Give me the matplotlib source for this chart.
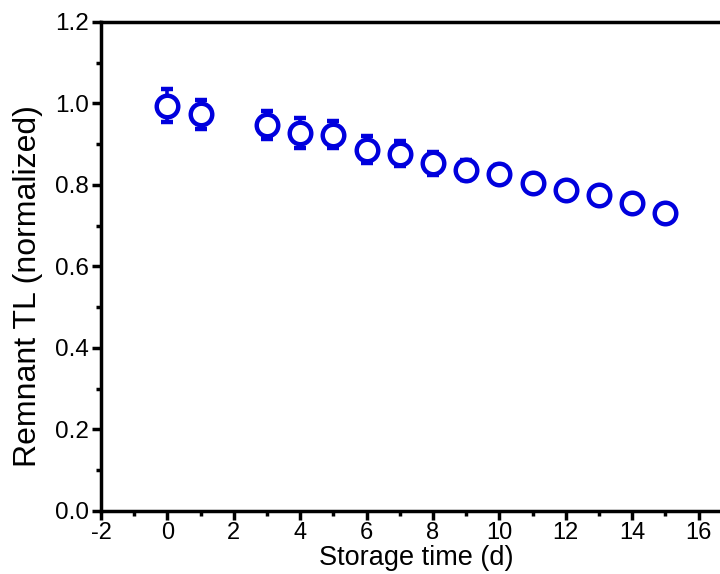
import matplotlib
matplotlib.use("Agg")
import matplotlib.pyplot as plt
from matplotlib.ticker import MultipleLocator

plt.rcParams['font.family'] = ['Liberation Sans', 'DejaVu Sans']

# Remnant thermoluminescence after storage, normalized to day 0
storage_days = [0, 1, 3, 4, 5, 6, 7, 8, 9, 10, 11, 12, 13, 14, 15]
remnant_tl = [0.995, 0.973, 0.947, 0.927, 0.923, 0.887, 0.877, 0.853, 0.837,
              0.827, 0.804, 0.788, 0.775, 0.755, 0.731]
tl_error = [0.040, 0.035, 0.035, 0.037, 0.033, 0.034, 0.030, 0.028, 0.025,
            0.022, 0.020, 0.020, 0.020, 0.020, 0.020]

x_ticks = [-2, 0, 2, 4, 6, 8, 10, 12, 14, 16]
y_ticks = [0.0, 0.2, 0.4, 0.6, 0.8, 1.0, 1.2]

fig = plt.figure(figsize=(7.2, 5.74), dpi=100)
ax = fig.add_axes([0.1403, 0.1098, 0.876, 0.8519])

blue = '#0000dd'
ax.errorbar(storage_days, remnant_tl, yerr=tl_error, fmt='o',
            color=blue, ecolor=blue, elinewidth=2.6, capsize=4.5, capthick=2.6,
            markersize=15.5, markeredgewidth=3.2, markerfacecolor='white',
            markeredgecolor=blue, zorder=3)

ax.set_xlim(-2, 17)
ax.set_ylim(0.0, 1.2)
ax.set_xticks(x_ticks)
ax.set_yticks(y_ticks)
ax.set_xticklabels([str(t) for t in x_ticks], fontsize=17)
ax.set_yticklabels([f"{t:.1f}" for t in y_ticks], fontsize=17.5)
ax.xaxis.set_minor_locator(MultipleLocator(1))
ax.yaxis.set_minor_locator(MultipleLocator(0.1))

for side in ax.spines.values():
    side.set_linewidth(2.5)

ax.tick_params(which='major', direction='out', length=6.5, width=2.5, pad=2.5)
ax.tick_params(axis='x', which='major', pad=1.5)
ax.tick_params(which='minor', direction='out', length=3.6, width=2.5)
ax.tick_params(top=False, right=False, which='both')

ax.set_xlabel('Storage time (d)', fontsize=19.5, labelpad=0.5)
ax.set_ylabel('Remnant TL (normalized)', fontsize=23)
ax.yaxis.set_label_coords(-0.092, 0.46)

fig.savefig('out.png', dpi=100)
